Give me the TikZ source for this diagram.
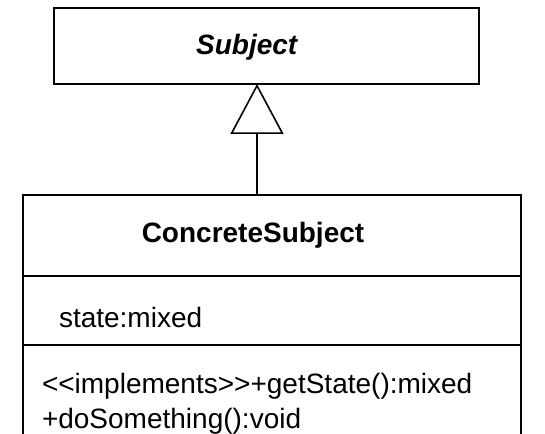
\documentclass[tikz,border=0pt]{standalone}
\usepackage{fontspec}
\setmainfont{Liberation Sans}
\usetikzlibrary{arrows.meta,positioning,calc}

\begin{document}
\begin{tikzpicture}[x=0.75pt, y=-0.75pt,
    classbox/.style={draw, line width=1.2pt, rectangle, inner sep=0pt, outer sep=0pt,
                     font=\fontsize{21}{26.25}\selectfont},
    namebox/.style={classbox, align=center, minimum width=373.5pt},
    partbox/.style={classbox, align=left},
    inherit/.style={-{Triangle[open, length=37.5pt, width=39.75pt]}, line width=1.2pt}
]
    \path[use as bounding box, clip] (0,0) rectangle (545,434);

    \node[namebox, minimum width=318.75pt, text height=35.25pt, text depth=21.75pt]
        (subject) at (266.5,46) {\textbf{\textit{Subject}}\hspace*{29pt}};

    \node[namebox, text height=36pt, text depth=24.75pt]
        (concrete) at (272,235.5) {\textbf{ConcreteSubject}\hspace*{28.5pt}};
    \node[partbox, below=0pt of concrete, inner xsep=27pt, text width=319.5pt,
          text height=38.25pt, text depth=13.5pt]
        (attrs) {state:mixed};
    \node[partbox, below=0pt of attrs, inner xsep=14.25pt, text width=345pt,
          text height=36pt, text depth=48.75pt]
        (ops) {<{}<implements>{}>+getState():mixed\\+doSomething():void};

    \coordinate (tip) at ($(subject.south)+(-9.5,0)$);
    \draw[inherit] (concrete.north -| tip) -- (tip);
\end{tikzpicture}
\end{document}
